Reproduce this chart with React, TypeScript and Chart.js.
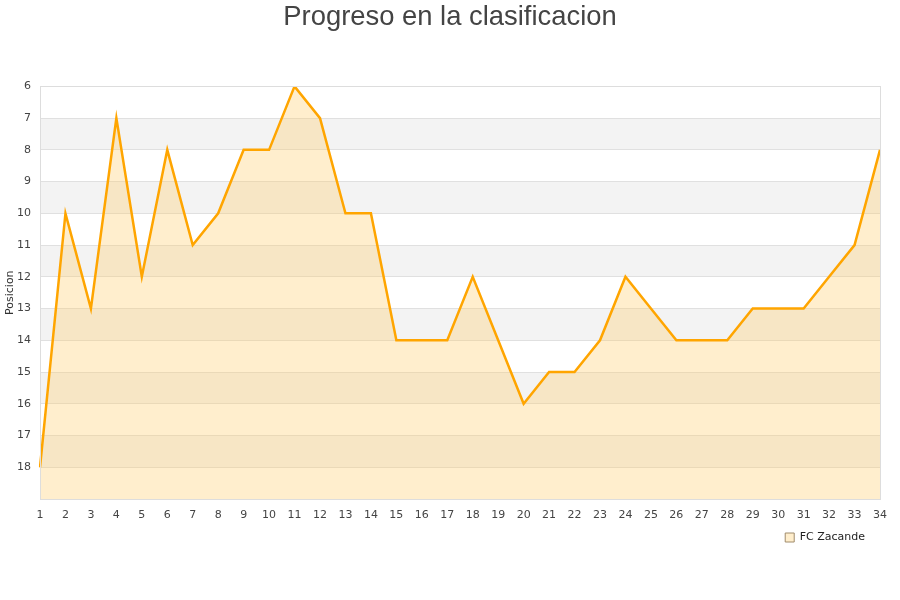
import React, { useEffect, useRef } from "react";
import { Chart, registerables } from "chart.js";

Chart.register(...registerables);

const jornadas: string[] = [
  "1", "2", "3", "4", "5", "6", "7", "8", "9", "10", "11", "12", "13", "14", "15", "16", "17",
  "18", "19", "20", "21", "22", "23", "24", "25", "26", "27", "28", "29", "30", "31", "32", "33", "34",
];
const posiciones: number[] = [
  18, 10, 13, 7, 12, 8, 11, 10, 8, 8, 6, 7, 10, 10, 14, 14, 14,
  12, 14, 16, 15, 15, 14, 12, 13, 14, 14, 14, 13, 13, 13, 12, 11, 8,
];
const teamName = "FC Zacande";
const chartTitle = "Progreso en la clasificacion";
const yTitle = "Posicion";
const yMin = 6;
const yMax = 19;

const bandsPlugin = {
  id: "bands",
  beforeDraw(chart: any) {
    const { ctx, chartArea } = chart;
    const y = chart.scales.y;
    if (!chartArea) return;
    if (chart.titleBlock) {
      chart.titleBlock.left = 0;
      chart.titleBlock.right = chart.width;
    }
    if (chart.legend) {
      chart.legend.right = chart.width - 26;
    }
    ctx.save();
    ctx.fillStyle = "#f3f3f3";
    for (let v = yMin + 1; v < yMax; v += 2) {
      const p1 = y.getPixelForValue(v);
      const p2 = y.getPixelForValue(v + 1);
      ctx.fillRect(chartArea.left, p1, chartArea.right - chartArea.left, p2 - p1);
    }
    ctx.restore();
  },
  afterDraw(chart: any) {
    const { ctx, chartArea } = chart;
    ctx.save();
    ctx.strokeStyle = "#dddddd";
    ctx.lineWidth = 1;
    ctx.strokeRect(
      Math.round(chartArea.left) + 0.5,
      Math.round(chartArea.top) + 0.5,
      Math.round(chartArea.right - chartArea.left),
      Math.round(chartArea.bottom - chartArea.top)
    );
    ctx.restore();
  },
};

export default function App() {
  const ref = useRef<HTMLCanvasElement | null>(null);
  useEffect(() => {
    if (!ref.current) return;
    Chart.defaults.font.family = "'DejaVu Sans', sans-serif";
    const chart = new Chart(ref.current, {
      type: "line",
      data: {
        labels: jornadas,
        datasets: [
          {
            label: teamName,
            data: posiciones,
            borderColor: "#ffa500",
            backgroundColor: "rgba(255, 204, 102, 0.33)",
            borderWidth: 2.5,
            pointRadius: 0,
            tension: 0,
            fill: "start",
          },
        ],
      },
      options: {
        animation: false,
        responsive: true,
        maintainAspectRatio: false,
        layout: { padding: { left: 0, right: 20, top: 0, bottom: 47 } },
        plugins: {
          title: {
            display: true,
            text: chartTitle,
            color: "#444444",
            font: { family: "'Liberation Sans', Arial, sans-serif", size: 27.4, weight: "normal" },
            padding: { top: 1, bottom: 52.5 },
          },
          legend: {
            display: true,
            position: "bottom",
            align: "end",
            labels: {
              boxWidth: 9,
              boxHeight: 9,
              color: "#222222",
              font: { size: 11 },
              padding: 9,
              generateLabels: (c: any) =>
                c.data.datasets.map((d: any, i: number) => ({
                  text: d.label,
                  fillStyle: "#ffeecc",
                  strokeStyle: "#a08c6c",
                  lineWidth: 1,
                  hidden: false,
                  datasetIndex: i,
                  fontColor: "#222222",
                })),
            },
          },
          tooltip: { enabled: false },
        },
        scales: {
          x: {
            type: "category",
            offset: false,
            grid: { display: false, drawTicks: false },
            border: { display: false },
            ticks: { color: "#444444", font: { size: 11 }, padding: 10, autoSkip: false, maxRotation: 0 },
            afterFit: (s: any) => {
              s.height = 24;
            },
          },
          y: {
            type: "linear",
            reverse: true,
            min: yMin,
            max: yMax,
            grid: { color: "#e0e0e0", drawTicks: false },
            border: { display: false },
            ticks: {
              stepSize: 1,
              color: "#444444",
              font: { size: 11 },
              padding: 9,
              callback: (v: any) => (v === yMax ? "" : String(v)),
            },
            title: {
              display: true,
              text: yTitle,
              color: "#333333",
              font: { size: 11 },
              padding: { top: 4, bottom: 0 },
            },
            afterFit: (s: any) => {
              s.width = 40;
            },
          },
        },
      },
      plugins: [bandsPlugin],
    } as any);
    return () => chart.destroy();
  }, []);
  return (
    <div style={{ position: "absolute", left: 0, top: 0, width: 900, height: 600, background: "#ffffff" }}>
      <canvas ref={ref} />
    </div>
  );
}
